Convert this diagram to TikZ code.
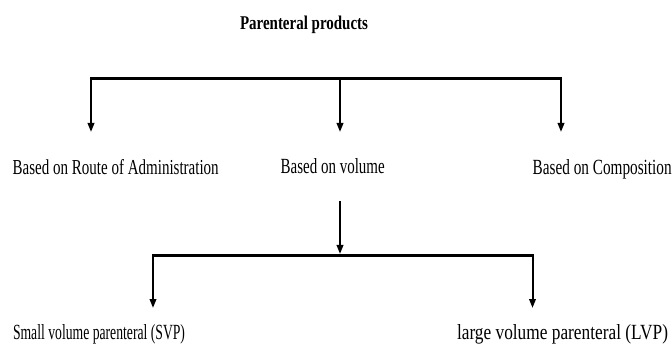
\documentclass[tikz,border=0pt]{standalone}
\usepackage{fontspec}
\usepackage{graphicx}
\setmainfont{Liberation Serif}
\usetikzlibrary{arrows.meta}
\newcommand\fitbox[3]{\resizebox{#1pt}{#2pt}{#3}}
\begin{document}
\begin{tikzpicture}[x=1pt,y=1pt,
  lbl/.style={inner sep=0pt,outer sep=0pt,anchor=base west},
  bar/.style={line width=3.2pt},
  arr/.style={line width=2pt,-{Triangle[length=9pt,width=6.5pt]}}]
\useasboundingbox (0,0) rectangle (672,343);
% texts
\node[lbl] (title) at (240,313) {\fitbox{128}{13.5}{\bfseries Parenteral products}};
\node[lbl] (route) at (12.7,168.5) {\fitbox{206}{15}{Based on Route of Administration}};
\node[lbl] (volume) at (280.7,169) {\fitbox{104}{15}{Based on volume}};
\node[lbl] (comp) at (532.7,168.3) {\fitbox{139}{15}{Based on Composition}};
\node[lbl] (svp) at (13,4) {\fitbox{172}{15}{Small volume parenteral (SVP)}};
\node[lbl] (lvp) at (457,4) {\fitbox{211}{15}{large volume parenteral (LVP)}};
% upper bar
\coordinate (b1) at (91,264.5);
\coordinate (b2) at (340,264.5);
\coordinate (b3) at (561,264.5);
\coordinate (t1) at (91,211);
\coordinate (t2) at (340,211);
\coordinate (t3) at (561,211);
\draw[bar] ([xshift=-1pt]b1) -- ([xshift=1pt]b3);
\draw[arr] (b1) -- (t1);
\draw[arr] (b2) -- (t2);
\draw[arr] (b3) -- (t3);
% lower part
\coordinate (m0) at (340,142);
\coordinate (c2) at (340,87.5);
\coordinate (c1) at (153,87.5);
\coordinate (c3) at (532.5,87.5);
\coordinate (s1) at (153,35);
\coordinate (s3) at (532.5,35);
\draw[bar] ([xshift=-1pt]c1) -- ([xshift=1pt]c3);
\draw[arr] (m0) -- ([yshift=1.5pt]c2);
\draw[arr] (c1) -- (s1);
\draw[arr] (c3) -- (s3);
\end{tikzpicture}
\end{document}
